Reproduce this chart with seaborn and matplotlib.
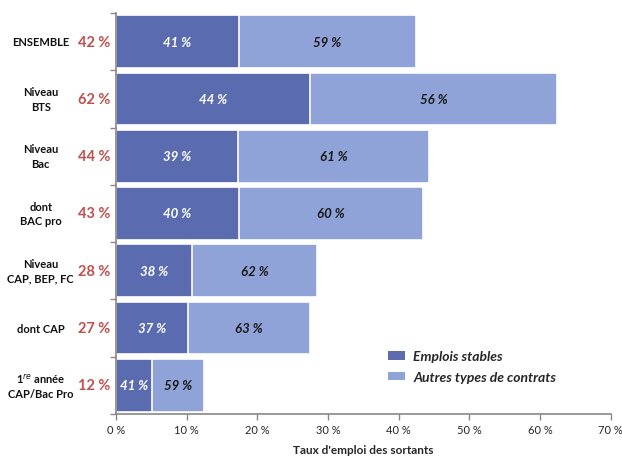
import pandas as pd
import matplotlib.pyplot as plt
import seaborn as sns
from matplotlib.patches import Patch
from matplotlib.transforms import blended_transform_factory

sns.set_theme(style="white")
plt.rcParams['font.family'] = ['Lato', 'DejaVu Sans']

# Data
categories = ["ENSEMBLE", "Niveau\nBTS", "Niveau\nBac", "dont\nBAC pro",
              "Niveau\nCAP, BEP, FC", "dont CAP", "1$^{re}$ année\nCAP/Bac Pro"]
taux_emploi = [42.4, 62.4, 44.3, 43.4, 28.4, 27.4, 12.4]   # % employed
part_stable = [41, 44, 39, 40, 38, 37, 41]                  # % stable among employed
part_autres = [59, 56, 61, 60, 62, 63, 59]

df = pd.DataFrame({
    "cat": [c.replace("\n", " ") for c in categories],
    "total": taux_emploi,
    "stable": [t * s / 100 for t, s in zip(taux_emploi, part_stable)],
})

dark = "#5B6BB0"
light = "#8FA3D8"

fig = plt.figure(figsize=(6.22, 4.6), dpi=100)
ax = fig.add_axes([0.1865, 0.0978, 0.7955, 0.8718])

sns.barplot(data=df, y="cat", x="total", color=light, orient="h", width=0.92,
            edgecolor="white", linewidth=1.2, saturation=1, ax=ax)
sns.barplot(data=df, y="cat", x="stable", color=dark, orient="h", width=0.92,
            edgecolor="white", linewidth=1.2, saturation=1, ax=ax)

ax.set_xlim(0, 70)
ax.set_ylim(len(categories) - 0.5, -0.5)

# value labels inside the bars
for i, (tot, st, ps, pa) in enumerate(zip(df["total"], df["stable"], part_stable, part_autres)):
    ax.text(st / 2, i, f"{ps} %", ha="center", va="center", color="white",
            fontsize=9.5, fontweight="bold", fontstyle="italic")
    ax.text(st + (tot - st) / 2, i, f"{pa} %", ha="center", va="center", color="#1a1a1a",
            fontsize=9.5, fontweight="bold", fontstyle="italic")

# category names and overall rates on the left
trans = blended_transform_factory(ax.transAxes, ax.transData)
for i, (cat, tot) in enumerate(zip(categories, taux_emploi)):
    ax.text(-0.152, i, cat, transform=trans, ha="center", va="center",
            multialignment="center", fontsize=8, fontweight="bold", color="#111111",
            linespacing=1.4)
    ax.text(-0.012, i, f"{round(tot)} %", transform=trans, ha="right", va="center",
            fontsize=10.5, fontweight="bold", color="#C0504D")

# axes styling
ax.set_yticks([i - 0.5 for i in range(len(categories) + 1)])
ax.set_yticklabels([])
ax.set_ylabel("")
ax.set_xticks(range(0, 71, 10))
ax.set_xticklabels([f"{v} %" for v in range(0, 71, 10)], fontsize=8)
ax.set_xlabel("Taux d'emploi des sortants", fontsize=8.5, fontweight="bold", labelpad=6)
ax.tick_params(axis="both", which="both", length=4, width=1, color="#888888",
               left=True, bottom=True, direction="out")
for side in ["top", "right"]:
    ax.spines[side].set_visible(False)
for side in ["left", "bottom"]:
    ax.spines[side].set_color("#888888")
    ax.spines[side].set_linewidth(1.2)

handles = [Patch(facecolor=dark, edgecolor="none", label="Emplois stables"),
           Patch(facecolor=light, edgecolor="none", label="Autres types de contrats")]
leg = ax.legend(handles=handles, loc="upper left", bbox_to_anchor=(0.525, 0.19),
                frameon=False, handlelength=1.2, handleheight=0.55, handletextpad=0.6,
                labelspacing=0.6,
                prop={"weight": "bold", "style": "italic", "size": 10})

fig.savefig("out.png", dpi=100)
plt.close(fig)
